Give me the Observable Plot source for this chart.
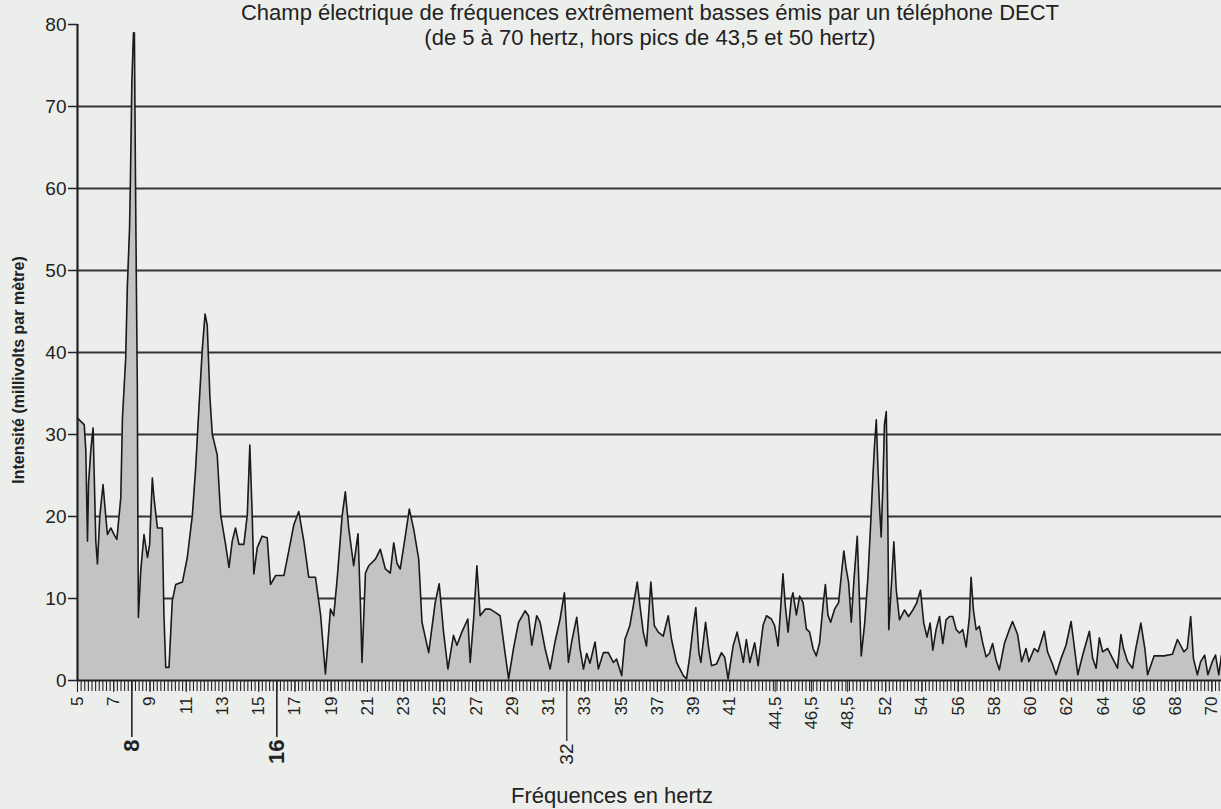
<!DOCTYPE html>
<html><head><meta charset="utf-8">
<script src="https://cdn.jsdelivr.net/npm/d3@7"></script>
<script src="https://cdn.jsdelivr.net/npm/@observablehq/plot@0.6"></script>
<style>
html,body{margin:0;padding:0;background:#eceeeb;}
#chart{position:relative;width:1221px;height:809px;overflow:hidden;}
</style></head><body><div id="chart"></div>
<script>
const title = "Champ électrique de fréquences extrêmement basses émis par un téléphone DECT";
const subtitle = "(de 5 à 70 hertz, hors pics de 43,5 et 50 hertz)";
const yTitle = "Intensité (millivolts par mètre)";
const xTitle = "Fréquences en hertz";

const yTicks = [0, 10, 20, 30, 40, 50, 60, 70, 80];
const tickHz = [5,7,9,11,13,15,17,19,21,23,25,27,29,31,33,35,37,39,41,44.5,46.5,48.5,52,54,56,58,60,62,64,66,68,70];
const tickLabels = ["5","7","9","11","13","15","17","19","21","23","25","27","29","31","33","35","37","39","41","44,5","46,5","48,5","52","54","56","58","60","62","64","66","68","70"];
const markedHz = [8, 16, 32];
const markedLabels = ["8", "16", "32"];
// frequency bands left out of the axis (peaks at 43,5 and 50 Hz)
const skippedBands = [[43, 44], [49.3, 50.7]];

const freq = [5.0,5.18,5.37,5.46,5.55,5.61,5.73,5.86,6.01,6.10,6.23,6.41,6.56,6.65,6.84,7.02,7.17,7.39,7.48,7.66,7.75,7.87,7.92,8.00,8.09,8.14,8.20,8.25,8.30,8.33,8.36,8.49,8.67,8.86,8.98,9.13,9.22,9.41,9.68,9.77,9.87,10.05,10.23,10.42,10.79,11.06,11.34,11.52,11.70,11.89,12.04,12.16,12.31,12.44,12.71,12.90,13.17,13.36,13.54,13.72,13.91,14.18,14.37,14.51,14.64,14.73,14.92,15.19,15.47,15.65,15.93,16.39,16.66,16.94,17.21,17.49,17.76,18.13,18.41,18.68,18.96,19.14,19.33,19.60,19.78,19.97,20.24,20.48,20.61,20.70,20.89,21.07,21.44,21.71,21.99,22.26,22.45,22.63,22.81,23.09,23.31,23.55,23.83,24.01,24.38,24.74,24.96,25.20,25.44,25.75,25.94,26.21,26.54,26.67,26.86,27.04,27.22,27.50,27.77,28.05,28.32,28.51,28.79,29.06,29.34,29.70,29.89,30.07,30.34,30.53,30.80,31.08,31.35,31.63,31.87,32.09,32.27,32.55,32.73,32.92,33.10,33.28,33.56,33.74,34.02,34.29,34.57,34.75,35.03,35.21,35.48,35.67,35.89,36.04,36.22,36.40,36.64,36.83,37.05,37.32,37.60,37.78,38.06,38.43,38.61,38.79,38.98,39.12,39.29,39.40,39.66,39.84,39.99,40.26,40.54,40.72,40.90,41.18,41.40,41.64,41.74,41.91,42.10,42.37,42.56,42.83,44.02,44.29,44.47,44.66,44.80,44.93,45.06,45.21,45.39,45.48,45.67,45.85,46.04,46.22,46.40,46.59,46.77,46.95,47.14,47.27,47.41,47.56,47.78,48.00,48.15,48.29,48.42,48.55,48.70,48.84,49.03,49.16,49.25,50.84,51.02,51.17,51.30,51.38,51.48,51.57,51.66,51.75,51.84,51.93,52.03,52.12,52.17,52.30,52.45,52.58,52.76,53.04,53.26,53.50,53.70,53.92,54.10,54.28,54.45,54.60,54.78,54.97,55.15,55.33,55.52,55.70,55.89,56.07,56.25,56.44,56.62,56.71,56.84,56.99,57.17,57.36,57.54,57.72,57.90,58.09,58.27,58.55,58.82,59.00,59.28,59.50,59.74,59.90,60.20,60.40,60.57,60.75,60.93,61.22,61.40,61.68,61.95,62.23,62.42,62.60,62.87,63.24,63.42,63.61,63.79,63.97,64.25,64.52,64.79,64.98,65.12,65.35,65.62,65.80,66.08,66.30,66.45,66.81,67.36,67.82,68.10,68.46,68.64,68.83,68.98,69.20,69.38,69.60,69.78,70.02,70.20,70.38,70.53];
const intensity = [32,31.6,31.2,28,17,24,28,30.8,17,14.2,20,23.9,20,17.8,18.6,17.8,17.2,22.3,32,39.3,48,55,61,73,79,79,61,48,36,20,7.7,13.4,17.8,15,16.6,24.7,22.3,18.6,18.6,8,1.6,1.6,9.7,11.7,12,15,20.2,25.9,33.2,40.5,44.7,43.3,34.4,30,27.5,20.2,16.6,13.8,17,18.6,16.6,16.6,20.2,28.7,20.2,13,16.2,17.6,17.4,11.7,12.8,12.8,15.8,19,20.6,17,12.6,12.6,8.1,0.8,8.7,7.9,12.4,20,23,18.5,14,17.9,9.5,2.2,13.1,14,14.8,16,13.6,13.1,16.8,14.3,13.6,17.6,20.9,18.5,14.8,7.1,3.4,9.5,11.8,5.9,1.4,5.5,4.3,5.9,7.5,2.2,7.5,14,7.9,8.7,8.7,8.3,7.9,4.7,0.2,3.9,7.1,8.5,7.9,4.3,7.9,7.1,3.9,1.4,4.7,7.5,10.7,2.2,4.7,7.7,3.9,1.4,3.3,2.1,4.7,1.4,3.4,3.4,2.2,2.6,0.6,5,6.7,9.1,12,9.1,5.9,4.2,12,6.7,5.9,5.4,7.9,5,2.2,0.6,0.2,3,6.7,8.9,3.4,2.2,7.1,3.8,1.8,2,3.4,2.8,0.2,4.2,5.9,3.4,2.2,5,2.2,4.6,1.8,6.7,7.9,7.5,6.7,4.2,8.7,13,9.1,5.9,9.9,10.7,8,10.3,9.5,6.3,5.9,3.9,3,4.6,9.1,11.7,8,7.1,8.7,9.5,12.8,15.8,13.6,12,7.1,12,17.6,9.1,3,7,12.6,19.1,25.2,28.6,31.8,26,21.1,17.5,23.5,31.2,32.8,19.1,6.2,11.1,16.9,11.1,7.4,8.6,7.8,8.6,9.4,11,7,5.3,7,3.7,6.2,7.8,4.5,7.4,7.8,7.8,6.2,5.8,6.2,4.1,7.8,12.6,8.6,6.2,6.6,4.5,2.9,3.3,4.5,2.5,1.3,4.5,6.2,7.2,5.6,2.3,3.9,2.3,3.9,3.5,4.7,6,3.5,1.9,0.7,2.7,4.3,7.2,3.9,0.7,3.1,6,2.7,1.5,5.2,3.5,3.9,2.7,1.5,5.6,3.9,2.3,1.5,3.9,7,3.9,0.7,3,3,3.2,5,3.5,3.9,7.8,2.7,0.7,2.3,3.1,0.7,2.3,3.1,0.7,3.1];

// Hz -> position along the axis with the skipped bands removed
function toAxis(hz) {
  let e = hz;
  for (const [a, b] of skippedBands) {
    if (hz >= b) e -= (b - a);
    else if (hz > a) e -= (hz - a);
  }
  return e;
}

const rows = freq.map((f, i) => ({e: toAxis(f), v: intensity[i]}));
const xMax = toAxis(freq[freq.length - 1]);
const tickE = tickHz.map(toAxis);
const labelOf = new Map(tickE.map((e, i) => [e, tickLabels[i]]));
const markE = markedHz.map(toAxis);
const markLabelOf = new Map(markE.map((e, i) => [e, markedLabels[i]]));
const minorE = d3.range(5, xMax + 0.001, 0.2);

const FONT = '"Liberation Sans",Arial,Helvetica,sans-serif';

const plot = Plot.plot({
  width: 1221,
  height: 809,
  marginLeft: 77,
  marginRight: 0,
  marginTop: 24,
  marginBottom: 129,
  style: {background: "transparent", fontFamily: FONT, fontSize: "16px", color: "#222"},
  x: {domain: [5, xMax]},
  y: {domain: [0, 80]},
  marks: [
    Plot.ruleY(yTicks.filter(d => d > 0 && d < 80), {stroke: "#353535", strokeWidth: 1.8}),
    Plot.areaY(rows, {x: "e", y: "v", fill: "#c3c3c3"}),
    Plot.lineY(rows, {x: "e", y: "v", stroke: "#1a1a1a", strokeWidth: 1.6}),
    Plot.ruleY([0], {stroke: "#222", strokeWidth: 2.2}),
    Plot.ruleX([5], {stroke: "#222", strokeWidth: 2.2}),
    Plot.axisY(yTicks, {tickSize: 9, tickPadding: 2, strokeWidth: 1.5, label: null}),
    Plot.axisX(minorE, {tickSize: 11, tickFormat: () => "", strokeWidth: 1.1, label: null}),
    Plot.axisX(tickE, {tickSize: 12, tickPadding: 4, tickRotate: -90, tickFormat: d => labelOf.get(d), label: null}),
    Plot.axisX(markE.slice(0, 2), {tickSize: 57, tickPadding: 2, tickRotate: -90, tickFormat: d => markLabelOf.get(d), fontWeight: "bold", strokeWidth: 1.6, label: null}),
    Plot.axisX(markE.slice(2), {tickSize: 61, tickPadding: 2, tickRotate: -90, tickFormat: d => markLabelOf.get(d), strokeWidth: 1.3, label: null})
  ]
});

const svg = d3.select(plot);
// tick label sizes, set on every text element
svg.selectAll('g[aria-label="y-axis tick label"] text').style("font-size", "19px");
const xLabelGroups = svg.selectAll('g[aria-label="x-axis tick label"]').nodes();
const xSizes = ["10px", "17px", "22px", "19px"];
xLabelGroups.forEach((g, i) => d3.select(g).selectAll("text").style("font-size", xSizes[i] || "17px"));

svg.append("text").attr("x", 650).attr("y", 20).attr("text-anchor", "middle")
  .style("font-family", FONT).style("font-size", "22px").attr("fill", "#222").text(title);
svg.append("text").attr("x", 650).attr("y", 45).attr("text-anchor", "middle")
  .style("font-family", FONT).style("font-size", "22px").attr("fill", "#222").text(subtitle);
svg.append("text").attr("x", 612).attr("y", 803).attr("text-anchor", "middle")
  .style("font-family", FONT).style("font-size", "22px").attr("fill", "#222").text(xTitle);
svg.append("text").attr("transform", "translate(24,370) rotate(-90)").attr("text-anchor", "middle")
  .style("font-family", FONT).style("font-size", "16px").style("font-weight", "bold").attr("fill", "#222").text(yTitle);

document.getElementById("chart").appendChild(plot);
</script></body></html>
